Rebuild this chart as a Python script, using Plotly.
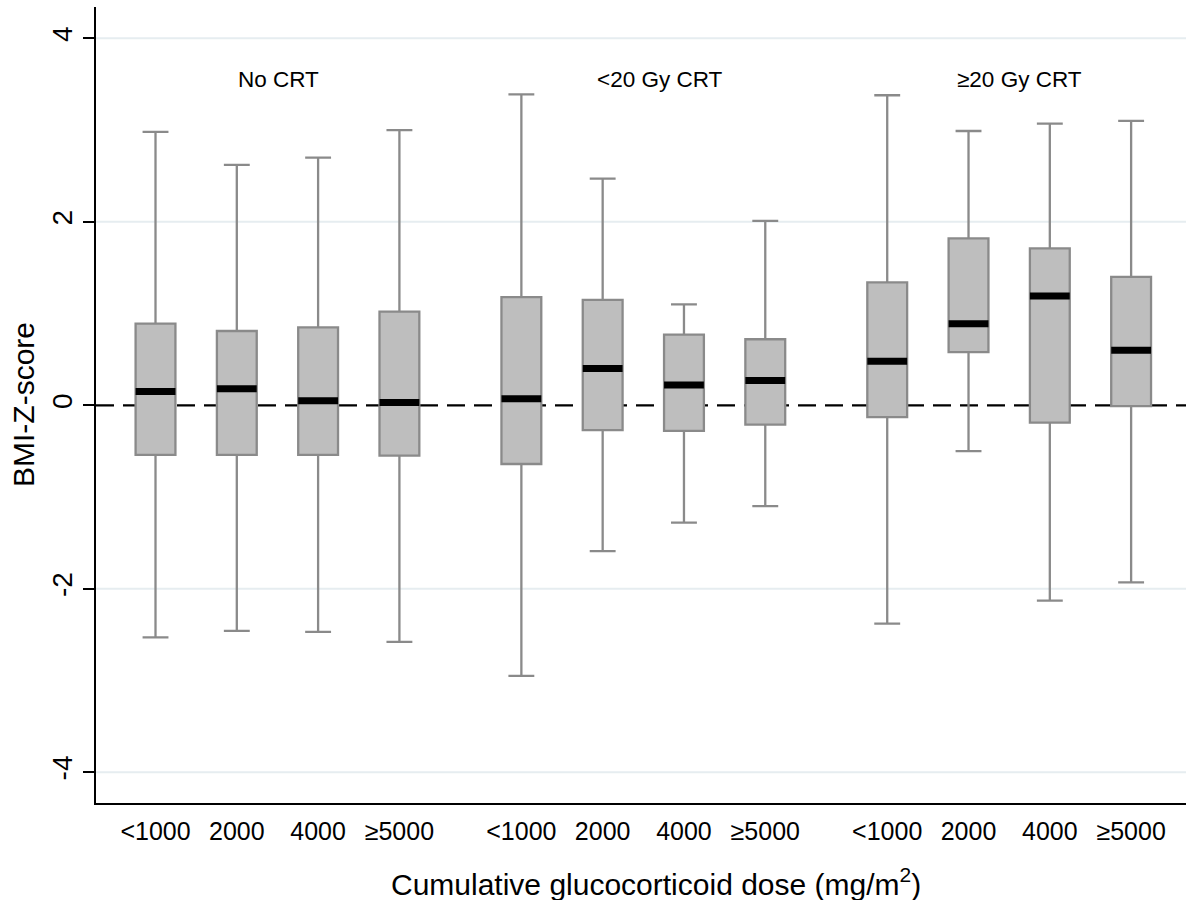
import plotly.graph_objects as go

# ---- data ----
groups = ["No CRT", "<20 Gy CRT", "≥20 Gy CRT"]
dose_labels = ["&lt;1000", "2000", "4000", "≥5000"]
positions = [0, 1, 2, 3, 4.5, 5.5, 6.5, 7.5, 9, 10, 11, 12]

upper_whisker = [2.98, 2.62, 2.70, 3.00, 3.39, 2.47, 1.10, 2.01, 3.38, 2.99, 3.07, 3.10]
q3_values     = [0.89, 0.81, 0.85, 1.02, 1.18, 1.15, 0.77, 0.72, 1.34, 1.82, 1.71, 1.40]
median_values = [0.15, 0.18, 0.05, 0.03, 0.07, 0.40, 0.22, 0.27, 0.48, 0.89, 1.19, 0.60]
q1_values     = [-0.54, -0.54, -0.54, -0.55, -0.64, -0.27, -0.28, -0.21, -0.13, 0.58, -0.19, -0.01]
lower_whisker = [-2.53, -2.46, -2.47, -2.58, -2.95, -1.59, -1.28, -1.10, -2.38, -0.50, -2.13, -1.93]

y_ticks = [-4, -2, 0, 2, 4]
y_ticktext = ["-4", "-2", "0", "2", "4"]

FONT = "Arial, Liberation Sans, sans-serif"
BOX_W = 0.49

fig = go.Figure()

fig.add_trace(go.Box(
    x=positions,
    q1=q1_values,
    median=median_values,
    q3=q3_values,
    lowerfence=lower_whisker,
    upperfence=upper_whisker,
    width=BOX_W,
    whiskerwidth=0.65,
    fillcolor="#bebebe",
    line=dict(color="#8a8a8a", width=2.3),
    boxpoints=False,
    showlegend=False,
    hoverinfo="skip",
))

# thick black median bars
mx, my = [], []
for p, m in zip(positions, median_values):
    mx += [p - BOX_W / 2, p + BOX_W / 2, None]
    my += [m, m, None]
fig.add_trace(go.Scatter(
    x=mx, y=my, mode="lines",
    line=dict(color="black", width=7),
    showlegend=False, hoverinfo="skip",
))

# light horizontal grid lines (except at zero) drawn beneath the boxes
for v in y_ticks:
    if v != 0:
        fig.add_shape(type="line", xref="paper", x0=0, x1=1, yref="y", y0=v, y1=v,
                      line=dict(color="#e6edf0", width=2), layer="below")

# dashed reference line at zero
fig.add_shape(type="line", xref="paper", x0=0, x1=1, yref="y", y0=0, y1=0,
              line=dict(color="black", width=2.2, dash="18px,9px"), layer="below")

# group labels
group_label_x = [1.51, 6.2, 10.63]
for gx, gname in zip(group_label_x, groups):
    fig.add_annotation(x=gx, y=3.55, xref="x", yref="y",
                       text=gname.replace("<", "&lt;"), showarrow=False,
                       font=dict(family=FONT, size=22.5, color="black"),
                       xanchor="center", yanchor="middle")

# axis titles as annotations
fig.add_annotation(xref="paper", yref="paper", x=0.5138, y=0, yshift=-79,
                   text="Cumulative glucocorticoid dose (mg/m<sup>2</sup>)",
                   showarrow=False, xanchor="center", yanchor="middle",
                   font=dict(family=FONT, size=30, color="black"))
fig.add_annotation(xref="paper", yref="paper", x=0, xshift=-73, y=0.5,
                   text="BMI-Z-score", textangle=-90,
                   showarrow=False, xanchor="center", yanchor="middle",
                   font=dict(family=FONT, size=30, color="black"))

fig.update_layout(
    width=1186, height=900,
    margin=dict(l=96, r=0, t=7, b=97, autoexpand=False),
    paper_bgcolor="white", plot_bgcolor="white",
    font=dict(family=FONT, color="black"),
    xaxis=dict(
        range=[-0.732, 12.675],
        tickvals=positions,
        ticktext=dose_labels * 3,
        tickfont=dict(family=FONT, size=25, color="black"),
        ticks="outside", ticklen=5, tickcolor="rgba(0,0,0,0)",
        showgrid=False, zeroline=False,
        showline=True, linecolor="black", linewidth=2,
        automargin=False,
    ),
    yaxis=dict(
        range=[-4.336, 4.342],
        tickvals=y_ticks, ticktext=y_ticktext,
        tickangle=-90,
        tickfont=dict(family=FONT, size=28, color="black"),
        ticks="outside", ticklen=11, tickwidth=2, tickcolor="black",
        showgrid=False,
        zeroline=False,
        showline=True, linecolor="black", linewidth=2,
        automargin=False,
    ),
)

fig.write_html("out.html", config={"displayModeBar": False},
               post_script="document.body.style.margin='0';")
